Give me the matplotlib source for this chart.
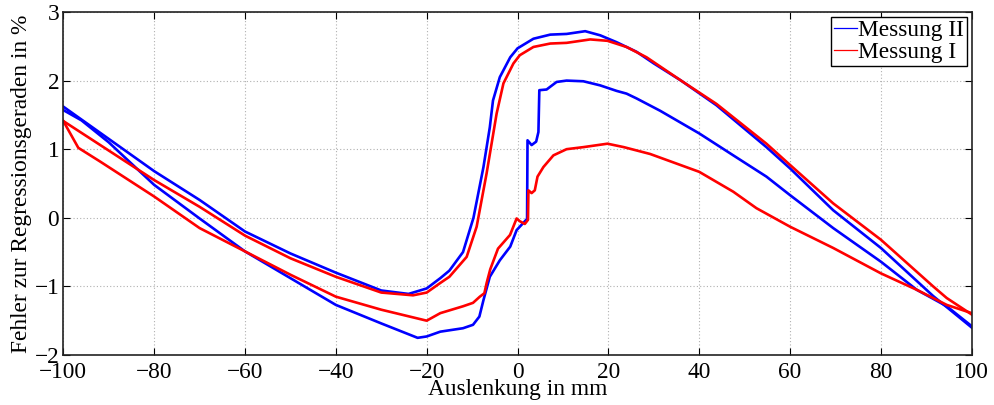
import matplotlib
matplotlib.use("Agg")
import matplotlib.pyplot as plt
from matplotlib.lines import Line2D

# Messung II (blau): oberer und unterer Zweig der Hystereseschleife
x_m2_oben = [-100, -90, -80, -70, -60, -50, -40, -30, -24, -20, -17, -15, -12, -9.7,
             -7.5, -6.1, -5.4, -3.9, -1.6, 0, 3.5, 7.2, 10.8, 14.9, 18.2, 21.8, 26.2,
             30, 36, 43.8, 54.8, 60, 69.5, 80, 91.5, 100]
y_m2_oben = [1.62, 1.15, 0.68, 0.26, -0.20, -0.52, -0.80, -1.06, -1.11, -1.03, -0.88,
             -0.77, -0.50, 0.00, 0.74, 1.32, 1.71, 2.05, 2.34, 2.47, 2.61, 2.67, 2.68,
             2.72, 2.66, 2.56, 2.42, 2.25, 2.00, 1.64, 1.03, 0.72, 0.11, -0.44, -1.14,
             -1.60]

x_m2_unten = [-100, -96, -90, -80, -70, -60, -50, -40, -30, -22, -20, -17, -12, -9.8,
              -8.4, -7.5, -6.1, -3.9, -1.6, -0.2, 1.9, 2.1, 2.2, 3.1, 4.1, 4.6, 4.8,
              6.4, 8.6, 10.8, 14.5, 18.2, 21.8, 24, 26.2, 31.4, 40, 47.5, 54.8, 60,
              69.5, 80, 87.9, 94.5, 100]
y_m2_unten = [1.57, 1.42, 1.10, 0.48, -0.01, -0.49, -0.88, -1.27, -1.54, -1.75, -1.73,
              -1.66, -1.61, -1.56, -1.44, -1.20, -0.86, -0.62, -0.42, -0.18, -0.03,
              -0.03, 1.13, 1.06, 1.11, 1.25, 1.86, 1.87, 1.98, 2.00, 1.99, 1.93, 1.85,
              1.81, 1.74, 1.56, 1.23, 0.91, 0.60, 0.33, -0.15, -0.64, -1.05, -1.29,
              -1.58]

# Messung I (rot)
x_m1_oben = [-100, -90, -80, -70, -60, -50, -40, -30, -23, -20, -17, -15, -11.2, -9.0,
             -6.8, -4.6, -3.1, -0.9, 0.5, 3.5, 7.2, 10.8, 16, 19.8, 24, 28.4, 36, 43.8,
             54.8, 60, 69.5, 80, 91.5, 94.5, 100]
y_m1_oben = [1.41, 0.98, 0.55, 0.16, -0.26, -0.59, -0.86, -1.09, -1.13, -1.09, -0.95,
             -0.86, -0.57, -0.13, 0.65, 1.52, 1.96, 2.25, 2.37, 2.49, 2.54, 2.55, 2.60,
             2.58, 2.49, 2.34, 2.00, 1.66, 1.08, 0.77, 0.21, -0.32, -1.00, -1.17, -1.41]

x_m1_unten = [-100, -96.7, -91.9, -80, -70, -60, -50, -40, -30, -20, -17, -12, -9.8,
              -8.3, -7.3, -6.8, -6.0, -4.3, -1.65, -0.2, 0.5, 1.6, 2.3, 2.4, 3.1, 3.8,
              4.4, 5.7, 7.9, 10.8, 14.5, 19.8, 23.4, 29.2, 40, 47.5, 52.6, 60, 69.5,
              80, 87.9, 94.5, 100]
y_m1_unten = [1.41, 1.02, 0.82, 0.31, -0.15, -0.49, -0.83, -1.15, -1.34, -1.50, -1.39,
              -1.29, -1.24, -1.15, -1.10, -0.95, -0.75, -0.45, -0.25, -0.01, -0.05,
              -0.09, -0.03, 0.40, 0.36, 0.40, 0.60, 0.74, 0.91, 1.00, 1.03, 1.08, 1.03,
              0.93, 0.67, 0.38, 0.14, -0.13, -0.44, -0.81, -1.05, -1.27, -1.39]

x_ticks = [-100, -80, -60, -40, -20, 0, 20, 40, 60, 80, 100]
y_ticks = [-2, -1, 0, 1, 2, 3]

fs = 16.8
plt.rcParams['font.family'] = ['Liberation Serif', 'DejaVu Serif']
plt.rcParams['font.size'] = fs

fig = plt.figure(figsize=(9.94, 4.05), dpi=100)
ax = fig.add_axes([0.0637, 0.1235, 0.9139, 0.8469])

lw = 1.9
ax.plot(x_m2_oben, y_m2_oben, color=(0, 0, 1), lw=lw)
ax.plot(x_m2_unten, y_m2_unten, color=(0, 0, 1), lw=lw)
ax.plot(x_m1_oben, y_m1_oben, color=(1, 0, 0), lw=lw)
ax.plot(x_m1_unten, y_m1_unten, color=(1, 0, 0), lw=lw)

ax.set_xlim(-100, 100)
ax.set_ylim(-2, 3)
ax.set_xticks(x_ticks)
ax.set_yticks(y_ticks)
ax.grid(True, color='#b0b0b0', linestyle=(0, (1, 2)), linewidth=0.8)
ax.tick_params(direction='in', top=True, right=True, length=5, width=0.8,
               labelsize=fs)
ax.tick_params(axis='x', pad=5)
ax.tick_params(axis='y', pad=3)
for s in ax.spines.values():
    s.set_linewidth(1.2)
    s.set_color('#222222')

ax.set_xlabel('Auslenkung in mm', labelpad=-3)
ax.set_ylabel('Fehler zur Regressionsgeraden in %', labelpad=2)

handles = [Line2D([], [], color=(0, 0, 1), lw=0.9),
           Line2D([], [], color=(1, 0, 0), lw=0.9)]
leg = ax.legend(handles, ['Messung II', 'Messung I'], loc='upper right',
                fancybox=False, framealpha=1, edgecolor='black',
                handlelength=1.0, handletextpad=0.05, borderpad=0.12,
                labelspacing=0.05, borderaxespad=0.2, fontsize=fs)
leg.get_frame().set_linewidth(1.0)

fig.savefig('out.png', dpi=100)
